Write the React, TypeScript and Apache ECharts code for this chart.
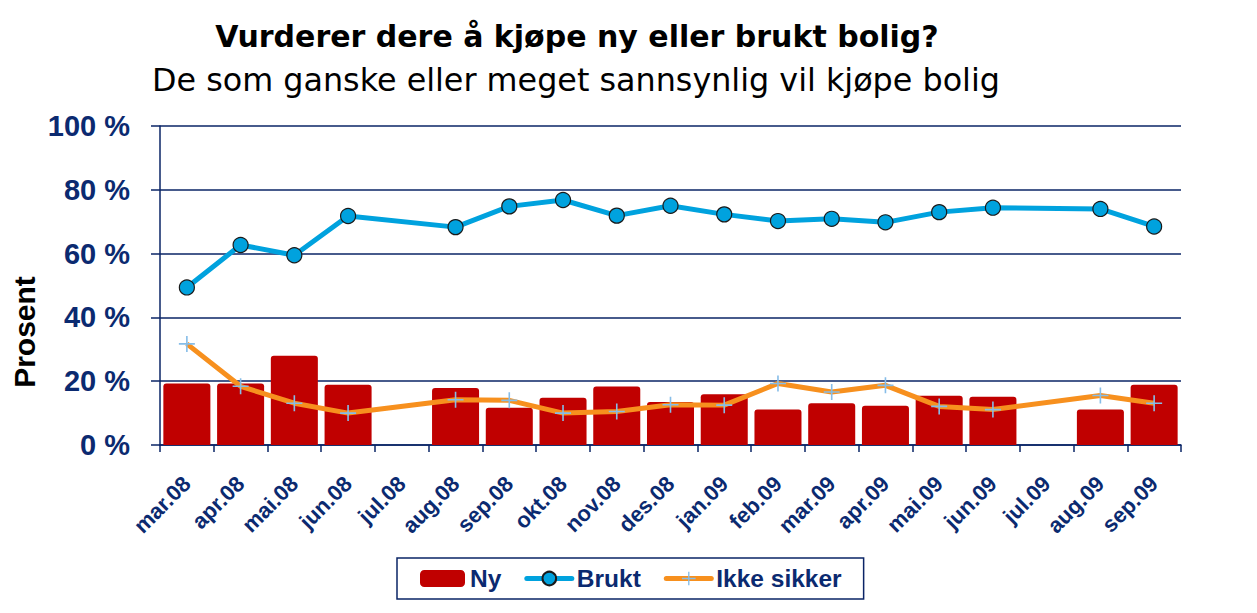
import React, { useEffect, useRef } from "react";
import * as echarts from "echarts";

const categories = [
  "mar.08", "apr.08", "mai.08", "jun.08", "jul.08", "aug.08", "sep.08", "okt.08", "nov.08", "des.08",
  "jan.09", "feb.09", "mar.09", "apr.09", "mai.09", "jun.09", "jul.09", "aug.09", "sep.09",
];
const ny = [19.3, 19.3, 28.0, 18.9, null, 17.9, 11.7, 14.8, 18.3, 13.5, 15.9, 11.1, 13.1, 12.3, 15.4, 15.1, null, 11.1, 18.9];
const brukt = [49.4, 62.7, 59.5, 71.8, null, 68.3, 74.8, 76.8, 71.9, 75.0, 72.3, 70.2, 70.9, 69.8, 73.0, 74.4, null, 74.0, 68.5];
const ikkeSikker = [31.7, 18.4, 13.1, 10.0, null, 14.2, 14.0, 10.0, 10.5, 12.6, 12.5, 19.3, 16.6, 18.7, 12.1, 11.1, null, 15.5, 13.1];
const yTicks = [0, 20, 40, 60, 80, 100];

const titleText = "Vurderer dere å kjøpe ny eller brukt bolig?";
const subtitleText = "De som ganske eller meget sannsynlig vil kjøpe bolig";
const yAxisTitle = "Prosent";

const NAVY = "#0b2a70";
const LINE_NAVY = "#0a2466";

export default function App() {
  const ref = useRef<HTMLDivElement>(null);
  useEffect(() => {
    if (!ref.current) return;
    const chart = echarts.init(ref.current, null, { renderer: "svg" });
    chart.setOption({
      animation: false,
      backgroundColor: "#ffffff",
      title: [
        {
          text: titleText,
          left: 572,
          top: 16,
          textAlign: "center",
          textStyle: { fontFamily: "DejaVu Sans", fontWeight: "bold", fontSize: 30, color: "#000000" },
        },
        {
          text: subtitleText,
          left: 571,
          top: 58,
          textAlign: "center",
          textStyle: { fontFamily: "DejaVu Sans", fontWeight: "normal", fontSize: 31.8, color: "#000000" },
        },
      ],
      graphic: [
        {
          type: "text",
          x: 24,
          y: 332,
          rotation: Math.PI / 2,
          style: {
            text: yAxisTitle,
            fontFamily: "Liberation Sans",
            fontWeight: "bold",
            fontSize: 30,
            fill: "#000000",
            align: "center",
            verticalAlign: "middle",
          },
        },
      ],
      legend: {
        left: 397,
        top: 558,
        itemGap: 23,
        itemWidth: 45,
        itemHeight: 17,
        padding: [8, 22, 8, 23],
        borderColor: LINE_NAVY,
        borderWidth: 1.5,
        lineStyle: { width: 5, cap: "round" },
        textStyle: { fontFamily: "Liberation Sans", fontWeight: "bold", fontSize: 24.5, color: NAVY },
        data: ["Ny", "Brukt", "Ikke sikker"],
      },
      grid: { left: 160, right: 76, top: 126, bottom: 168 },
      xAxis: {
        type: "category",
        data: categories,
        boundaryGap: true,
        axisLine: { show: true, lineStyle: { color: LINE_NAVY, width: 1.5 } },
        axisTick: { show: true, length: 7, lineStyle: { color: LINE_NAVY, width: 1.5 } },
        axisLabel: {
          interval: 0,
          rotate: 45,
          margin: 35,
          fontFamily: "Liberation Sans",
          fontWeight: "bold",
          fontSize: 22,
          color: NAVY,
        },
      },
      yAxis: {
        type: "value",
        min: yTicks[0],
        max: yTicks[yTicks.length - 1],
        interval: yTicks[1] - yTicks[0],
        axisLine: { show: true, lineStyle: { color: LINE_NAVY, width: 1.5 } },
        axisTick: { show: true, length: 9, lineStyle: { color: LINE_NAVY, width: 1.5 } },
        splitLine: { show: true, lineStyle: { color: LINE_NAVY, width: 1.5 } },
        axisLabel: {
          margin: 30,
          fontFamily: "Liberation Sans",
          fontWeight: "bold",
          fontSize: 29,
          color: NAVY,
          formatter: (v: number) => `${v} %`,
        },
      },
      series: [
        {
          name: "Ny",
          type: "bar",
          data: ny,
          barCategoryGap: "12.5%",
          itemStyle: { color: "#c00000", borderRadius: [3, 3, 0, 0] },
          z: 1,
        },
        {
          name: "Brukt",
          type: "line",
          data: brukt,
          connectNulls: true,
          symbol: "circle",
          symbolSize: 15,
          lineStyle: { color: "#00a2de", width: 5 },
          itemStyle: { color: "#00a2de", borderColor: "#1a1a1a", borderWidth: 1.2 },
          z: 3,
        },
        {
          name: "Ikke sikker",
          type: "line",
          data: ikkeSikker,
          connectNulls: true,
          symbol: "path://M5.4,0h1.2v12h-1.2zM0,5.4h12v1.2h-12z",
          symbolSize: 16,
          lineStyle: { color: "#f7901e", width: 5 },
          itemStyle: { color: "#86bde8" },
          z: 2,
        },
      ],
    });
    return () => chart.dispose();
  }, []);
  return (
    <div
      ref={ref}
      style={{ position: "fixed", left: 0, top: 0, width: 1257, height: 613 }}
    />
  );
}
